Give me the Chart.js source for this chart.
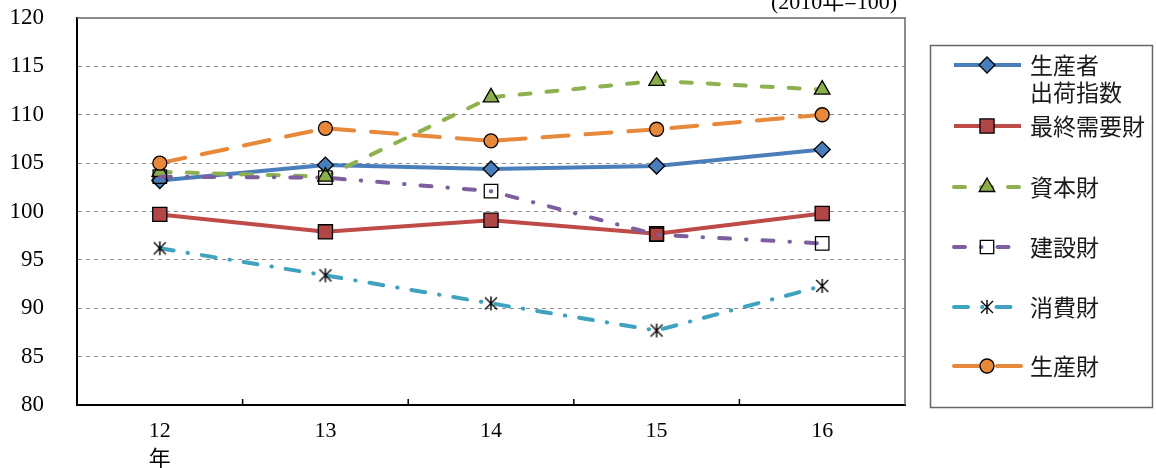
<!DOCTYPE html>
<html>
<head>
<meta charset="utf-8">
<script src="https://cdn.jsdelivr.net/npm/chart.js@4/dist/chart.umd.min.js"></script>
<style>
  html, body { margin: 0; padding: 0; background: #fff; }
  #wrap { width: 1156px; height: 468px; }
</style>
</head>
<body>
<div id="wrap"><canvas id="chart" width="1156" height="468"></canvas></div>
<script>
// データ (2010年=100)
const years = ['12', '13', '14', '15', '16'];
const shukkaShisu = [103.2, 104.8, 104.4, 104.7, 106.4];   // 生産者出荷指数
const saishuJuyo  = [99.7, 97.9, 99.1, 97.7, 99.8];        // 最終需要財
const shihonzai   = [104.1, 103.6, 111.8, 113.5, 112.6];   // 資本財
const kensetsuzai = [103.6, 103.5, 102.1, 97.6, 96.7];     // 建設財
const shohizai    = [96.2, 93.4, 90.5, 87.7, 92.3];        // 消費財
const seisanzai   = [105.0, 108.6, 107.3, 108.5, 110.0];   // 生産財
const seriesNames = ['生産者\n出荷指数', '最終需要財', '資本財', '建設財', '消費財', '生産財'];
const yMin = 80, yMax = 120, yStep = 5;
const unitLabel = '(2010年=100)';

const serif = '"Liberation Serif", "DejaVu Serif", "Noto Sans CJK JP", serif';
const gothic = '"Noto Sans CJK JP", "Noto Sans", sans-serif';

// 消費財のマーカー (＊)
function starMarker() {
    let c = document.createElement('canvas');
    c.width = 16; c.height = 16;
    let g = c.getContext('2d');
    g.strokeStyle = '#000';
    g.lineWidth = 1.4;
    g.beginPath();
    g.moveTo(8, 1); g.lineTo(8, 15);
    g.moveTo(2, 2); g.lineTo(14, 14);
    g.moveTo(14, 2); g.lineTo(2, 14);
    g.stroke();
    return c;
}

function makeSet(i, data, color, dash, style, radius, fill) {
    return {
        label: seriesNames[i],
        data: data,
        order: -i,
        borderColor: color,
        borderWidth: 4,
        borderDash: dash,
        borderCapStyle: dash.length ? 'round' : 'butt',
        borderJoinStyle: 'round',
        tension: 0,
        fill: false,
        pointStyle: style,
        pointRadius: radius,
        pointHoverRadius: radius,
        pointBackgroundColor: fill,
        pointBorderColor: '#000',
        pointBorderWidth: 1.3
    };
}

const datasets = [
    makeSet(0, shukkaShisu, '#4A7EBB', [], 'rectRot', 8, '#4A7EBB'),
    makeSet(1, saishuJuyo, '#BE4B48', [], 'rect', 10, '#B04645'),
    makeSet(2, shihonzai, '#8EB04F', [11, 16], 'triangle', 9, '#8AAE4A'),
    makeSet(3, kensetsuzai, '#7D5FA0', [11, 16, 0.5, 16], 'rect', 9.5, 'rgba(0,0,0,0)'),
    makeSet(4, shohizai, '#3FA3C0', [14, 14, 0.5, 14], starMarker(), 8, '#000'),
    makeSet(5, seisanzai, '#E8883A', [26, 17], 'circle', 7, '#E8883A')
];

// 枠線・目盛・単位・凡例
const decorPlugin = {
    id: 'decor',
    afterDraw(chart) {
        const ctx = chart.ctx;
        const a = chart.chartArea;
        const xs = chart.scales.x;
        ctx.save();

        ctx.strokeStyle = '#666';
        ctx.lineWidth = 1.5;
        ctx.beginPath();
        ctx.moveTo(a.left, a.top);
        ctx.lineTo(a.right, a.top);
        ctx.lineTo(a.right, a.bottom);
        ctx.stroke();

        ctx.strokeStyle = '#000';
        ctx.lineWidth = 1.5;
        for (let i = 0; i < years.length - 1; i++) {
            let px = (xs.getPixelForTick(i) + xs.getPixelForTick(i + 1)) / 2;
            ctx.beginPath();
            ctx.moveTo(px, a.bottom);
            ctx.lineTo(px, a.bottom - 6);
            ctx.stroke();
        }

        ctx.font = '22px ' + serif;
        ctx.fillStyle = '#000';
        ctx.textAlign = 'right';
        ctx.textBaseline = 'alphabetic';
        ctx.fillText(unitLabel, 897, 9);

        // 凡例
        ctx.strokeStyle = '#666';
        ctx.lineWidth = 1.5;
        ctx.strokeRect(930.5, 45.5, 222, 362);

        const rows = [65, 126, 187, 247, 307, 366];
        chart.data.datasets.forEach(function(ds, i) {
            let y = rows[i];
            ctx.save();
            ctx.strokeStyle = ds.borderColor;
            ctx.lineWidth = ds.borderWidth;
            ctx.lineCap = ds.borderCapStyle;
            ctx.setLineDash(ds.borderDash);
            ctx.beginPath();
            ctx.moveTo(954, y);
            ctx.lineTo(1021, y);
            ctx.stroke();
            ctx.setLineDash([]);
            ctx.fillStyle = ds.pointBackgroundColor;
            ctx.strokeStyle = ds.pointBorderColor;
            ctx.lineWidth = ds.pointBorderWidth;
            Chart.helpers.drawPoint(ctx, {
                pointStyle: ds.pointStyle,
                radius: ds.pointRadius,
                rotation: 0,
                borderWidth: ds.pointBorderWidth
            }, 987, y);
            ctx.restore();

            ctx.font = '23px ' + gothic;
            ctx.fillStyle = '#1a1a1a';
            ctx.textAlign = 'left';
            ctx.textBaseline = 'middle';
            ds.label.split('\n').forEach(function(line, k) {
                ctx.fillText(line, 1030, y + k * 27);
            });
        });

        ctx.restore();
    }
};

const labels = years.map((y, i) => i === 0 ? [y, '年'] : y);

new Chart(document.getElementById('chart'), {
    type: 'line',
    data: { labels: labels, datasets: datasets },
    options: {
        responsive: false,
        animation: false,
        devicePixelRatio: 1,
        layout: { padding: { top: 18, right: 251, left: 0, bottom: 0 } },
        plugins: {
            legend: { display: false },
            tooltip: { enabled: false },
            title: { display: false }
        },
        scales: {
            x: {
                type: 'category',
                offset: true,
                grid: { display: false, drawTicks: false },
                border: { display: true, color: '#000', width: 2 },
                ticks: {
                    color: '#000',
                    padding: 12,
                    maxRotation: 0,
                    font: { size: 22, family: serif, lineHeight: 1.3 }
                },
                afterFit: function(s) { s.height = 63; }
            },
            y: {
                min: yMin,
                max: yMax,
                ticks: {
                    stepSize: yStep,
                    color: '#000',
                    padding: 33,
                    font: { size: 23, family: serif }
                },
                grid: {
                    drawTicks: false,
                    lineWidth: 1,
                    color: function(c) {
                        return (c.tick && (c.tick.value === yMin || c.tick.value === yMax)) ? 'rgba(0,0,0,0)' : '#8c8c8c';
                    }
                },
                border: { display: true, color: '#000', width: 2, dash: [4, 4] },
                afterFit: function(s) {
                    s.width = 77;
                    s.paddingTop = 0;
                    s.paddingBottom = 0;
                }
            }
        }
    },
    plugins: [decorPlugin]
});
</script>
</body>
</html>
